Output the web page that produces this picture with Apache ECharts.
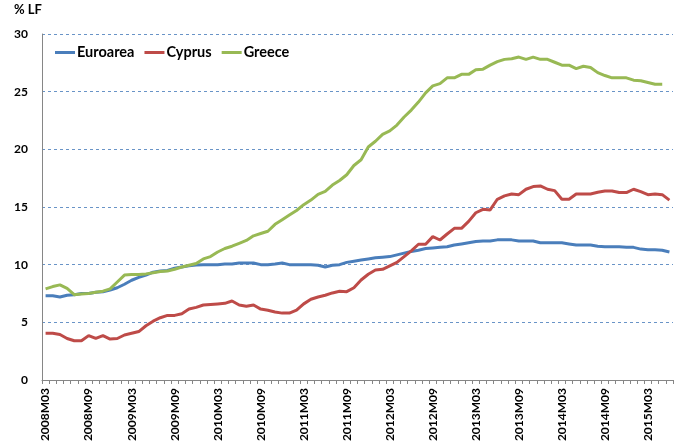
<!DOCTYPE html>
<html>
<head>
<meta charset="utf-8">
<script src="https://cdn.jsdelivr.net/npm/echarts@6/dist/echarts.min.js"></script>
<style>
html,body{margin:0;padding:0;background:#fff;}
#chart{width:679px;height:442px;}
</style>
</head>
<body>
<div id="chart"></div>
<script>
// Monthly categories 2008M03 .. 2015M06
const startYear = 2008, startMonth = 3, nMonths = 88;
const categories = [];
for (let k = 0; k < nMonths; k++) {
  const m = startMonth - 1 + k;
  const y = startYear + Math.floor(m / 12);
  const mm = (m % 12) + 1;
  categories.push(y + 'M' + (mm < 10 ? '0' + mm : mm));
}
const yTicks = [0, 5, 10, 15, 20, 25, 30];

const euroarea = [7.3,7.3,7.2,7.35,7.4,7.5,7.5,7.6,7.65,7.8,8.0,8.3,8.65,8.9,9.1,9.35,9.45,9.5,9.7,9.8,
  9.9,9.97,10.0,10.0,10.0,10.05,10.05,10.15,10.15,10.15,10.0,10.0,10.05,10.15,10.0,10.0,10.0,10.0,9.95,9.8,
  9.95,10.0,10.2,10.3,10.4,10.5,10.6,10.65,10.7,10.85,11.0,11.15,11.25,11.4,11.45,11.5,11.55,11.7,11.8,11.9,
  12.0,12.05,12.05,12.15,12.15,12.15,12.05,12.05,12.05,11.9,11.9,11.9,11.9,11.8,11.7,11.7,11.7,11.6,11.55,11.55,
  11.55,11.5,11.5,11.35,11.3,11.3,11.25,11.1];
const cyprus = [4.05,4.05,3.95,3.6,3.4,3.4,3.85,3.6,3.85,3.55,3.6,3.9,4.05,4.2,4.7,5.1,5.4,5.6,5.6,5.75,
  6.15,6.3,6.5,6.55,6.6,6.65,6.85,6.5,6.4,6.5,6.15,6.05,5.9,5.8,5.8,6.05,6.6,7.0,7.2,7.35,
  7.55,7.7,7.66,8.0,8.67,9.17,9.54,9.6,9.9,10.2,10.7,11.2,11.77,11.77,12.43,12.14,12.66,13.15,13.15,13.75,
  14.5,14.8,14.75,15.67,15.96,16.13,16.07,16.54,16.77,16.83,16.54,16.42,15.67,15.67,16.13,16.13,16.13,16.28,16.39,16.39,
  16.25,16.25,16.54,16.33,16.07,16.13,16.07,15.6];
const greece = [7.9,8.1,8.25,7.95,7.4,7.45,7.5,7.6,7.7,7.9,8.5,9.1,9.15,9.15,9.2,9.3,9.4,9.45,9.6,9.8,
  9.95,10.1,10.5,10.7,11.1,11.4,11.6,11.85,12.1,12.5,12.7,12.9,13.5,13.9,14.3,14.7,15.2,15.6,16.1,16.35,
  16.9,17.3,17.8,18.6,19.1,20.2,20.7,21.3,21.6,22.1,22.8,23.4,24.1,24.9,25.5,25.7,26.2,26.2,26.5,26.5,
  26.9,26.95,27.3,27.6,27.8,27.85,28.0,27.8,28.0,27.8,27.8,27.55,27.3,27.3,27.0,27.2,27.1,26.65,26.4,26.2,
  26.2,26.2,26.0,25.95,25.8,25.65,25.65,null];

const seriesNames = ['Euroarea', 'Cyprus', 'Greece'];
const seriesColors = ['#4A7EBB', '#BE4B48', '#98B954'];
const seriesData = [euroarea, cyprus, greece];

const fontFam = 'Lato, "Open Sans", sans-serif';
const chart = echarts.init(document.getElementById('chart'), null, {renderer: 'canvas'});
chart.setOption({
  animation: false,
  backgroundColor: '#ffffff',
  grid: {left: 42, right: 6, top: 34, bottom: 62, containLabel: false, outerBoundsMode: 'none'},
  graphic: [{
    type: 'text', left: 14, top: 3,
    style: {text: '% LF', font: 'bold 13px ' + fontFam, fill: '#000'}
  }],
  legend: {
    left: 50, top: 40,
    itemWidth: 20, itemHeight: 3, itemGap: 10,
    icon: 'rect',
    textStyle: {fontFamily: fontFam, fontWeight: 'bold', fontSize: 14.5, color: '#000', padding: [0, 0, 0, -3]},
    data: seriesNames
  },
  xAxis: {
    type: 'category',
    data: categories,
    boundaryGap: true,
    axisLine: {lineStyle: {color: '#868686', width: 1}},
    axisTick: {show: true, interval: 0, length: 4, lineStyle: {color: '#868686'}},
    axisLabel: {
      interval: 5, rotate: 90, fontFamily: fontFam, fontWeight: 'bold',
      fontSize: 12, color: '#000', margin: 8
    },
    splitLine: {show: false}
  },
  yAxis: {
    type: 'value', min: yTicks[0], max: yTicks[yTicks.length - 1], interval: 5,
    axisLine: {show: true, lineStyle: {color: '#868686', width: 1}},
    axisTick: {show: false},
    axisLabel: {fontFamily: fontFam, fontWeight: 'bold', fontSize: 12, color: '#000', margin: 14},
    splitLine: {show: true, lineStyle: {color: '#4F81BD', type: [3, 3], width: 1, opacity: 0.85}}
  },
  series: seriesData.map((d, k) => ({
    name: seriesNames[k],
    type: 'line',
    data: d,
    showSymbol: false,
    symbol: 'none',
    connectNulls: false,
    lineStyle: {color: seriesColors[k], width: 3},
    itemStyle: {color: seriesColors[k]},
    z: 3 + k
  }))
});
</script>
</body>
</html>
